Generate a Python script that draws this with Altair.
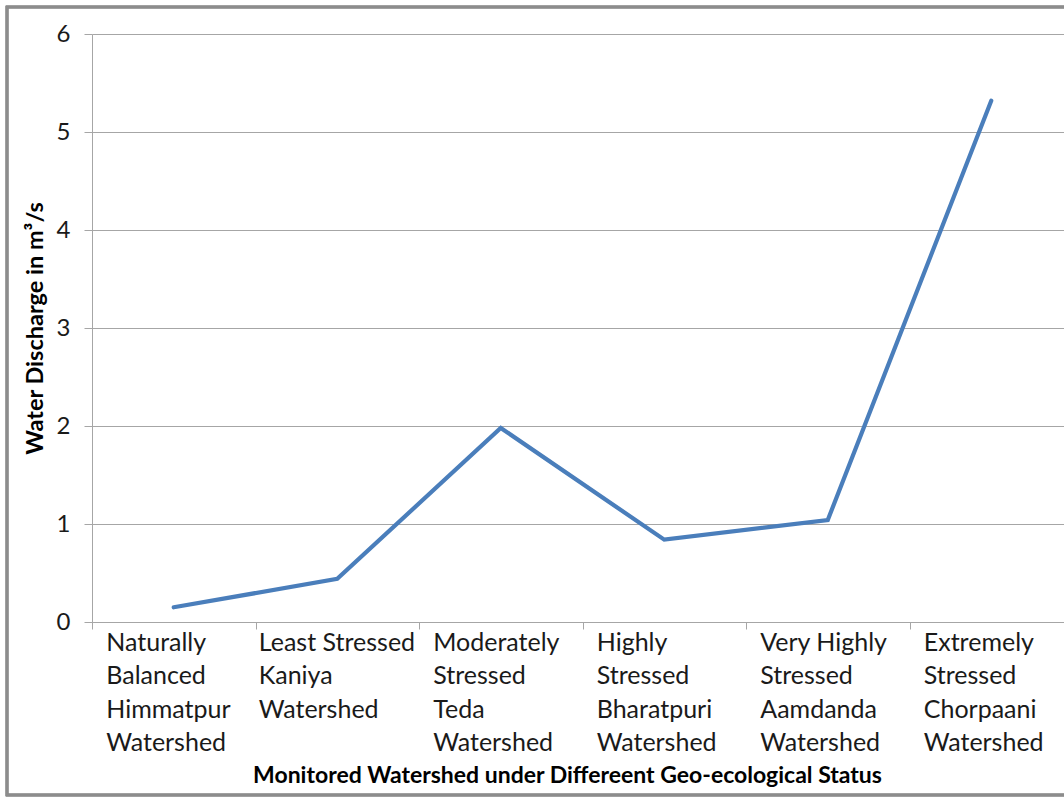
import altair as alt
import pandas as pd

# Watersheds (line breaks marked with "|") and measured discharge
watersheds = [
    "Naturally|Balanced|Himmatpur|Watershed",
    "Least Stressed|Kaniya|Watershed",
    "Moderately|Stressed|Teda|Watershed",
    "Highly|Stressed|Bharatpuri|Watershed",
    "Very Highly|Stressed|Aamdanda|Watershed",
    "Extremely|Stressed|Chorpaani|Watershed",
]
discharge = [0.15, 0.44, 1.98, 0.84, 1.04, 5.32]
y_ticks = [0, 1, 2, 3, 4, 5, 6]

df = pd.DataFrame({"watershed": watersheds, "discharge": discharge})

FONT = "Lato"
GRID = "#a6a6a6"

x_enc = alt.X(
    "watershed:N",
    sort=watersheds,
    scale=alt.Scale(type="band", paddingInner=0, paddingOuter=0, range=[0, 981]),
    axis=alt.Axis(
        title="Monitored Watershed under Differeent Geo-ecological Status",
        titleFont=FONT,
        titleFontSize=23,
        titleFontWeight="bold",
        titleColor="#000000",
        titleX=475,
        titleY=142,
        labelExpr="split(datum.label, '|')",
        labelAngle=0,
        labelAlign="left",
        # wrapped label blocks sit left-aligned around the band centre;
        # the widest block is shifted a little further left
        labelOffset={
            "condition": {"test": "datum.value == 'Least Stressed|Kaniya|Watershed'", "value": -79},
            "value": -68,
        },
        labelFont=FONT,
        labelFontSize=25,
        labelColor="#1a1a1a",
        labelLineHeight=33.5,
        labelPadding=1,
        labelLimit=300,
        tickBand="extent",
        tickSize=7,
        tickColor=GRID,
        domainColor=GRID,
        grid=False,
    ),
)

y_enc = alt.Y(
    "discharge:Q",
    scale=alt.Scale(domain=[0, 6], nice=False, zero=True),
    axis=alt.Axis(
        title="Water Discharge in m³/s",
        titleFont=FONT,
        titleFontSize=23.5,
        titleFontWeight="bold",
        titleColor="#000000",
        titlePadding=9,
        values=y_ticks,
        labelFont=FONT,
        labelFontSize=24,
        labelColor="#1a1a1a",
        labelPadding=14,
        tickSize=8,
        tickColor=GRID,
        domainColor=GRID,
        gridColor=GRID,
        gridWidth=1,
    ),
)

line = alt.Chart(df).mark_line(color="#4a7ebb", strokeWidth=4.2, strokeCap="round").encode(
    x=x_enc, y=y_enc
)

# chart area frame
frame = alt.Chart(df).mark_rect(
    fill=None, stroke="#8c8c8c", strokeWidth=2.5
).encode(
    x=alt.value(-85), x2=alt.value(1010), y=alt.value(-27), y2=alt.value(761)
)

chart = (
    alt.layer(frame, line)
    .properties(
        width=972,
        height=588,
        autosize=alt.AutoSizeParams(type="none"),
        padding={"left": 92, "top": 34, "right": 0, "bottom": 175},
        background="white",
    )
    .configure_view(stroke=None)
)

chart.save("out.html", embed_options={"renderer": "svg", "actions": False})
